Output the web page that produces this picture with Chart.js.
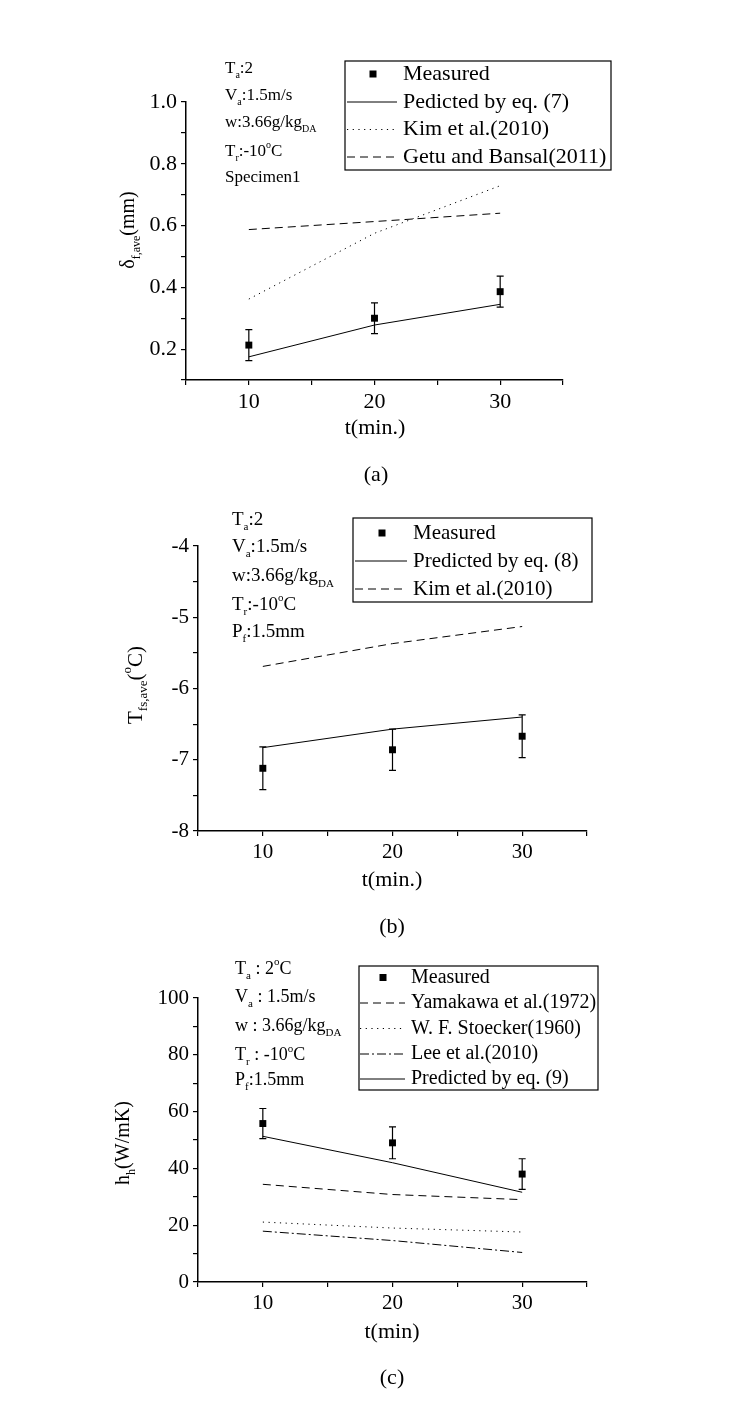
<!DOCTYPE html>
<html>
<head>
<meta charset="utf-8">
<script src="https://cdn.jsdelivr.net/npm/chart.js@4.4.1/dist/chart.umd.min.js"></script>
<style>
  body { margin: 0; background: #fff; width: 753px; height: 1402px; position: relative; overflow: hidden; }
  canvas { position: absolute; left: 0; }
</style>
</head>
<body>
<canvas id="chartA" width="753" height="500" style="top:0"></canvas>
<canvas id="chartB" width="753" height="500" style="top:450px"></canvas>
<canvas id="chartC" width="753" height="502" style="top:900px"></canvas>
<script>
// time axis (min)
var timeMin = [10, 20, 30];
var xLabelled = [10, 20, 30];

// (a) average frost thickness, mm
var thkMeasured = [0.213, 0.300, 0.386];
var thkErr = [0.05, 0.05, 0.05];
var thkEq7 = [0.175, 0.278, 0.345];
var thkKim = [0.362, 0.575, 0.729];
var thkGetu = [0.587, 0.613, 0.640];

// (b) average frost surface temperature, C
var tempMeasured = [-7.12, -6.86, -6.67];
var tempErr = [0.30, 0.29, 0.30];
var tempEq8 = [-6.83, -6.57, -6.40];
var tempKim = [-5.69, -5.37, -5.13];

// (c) heat transfer coefficient, W/m2K
var hMeasured = [55.8, 49.0, 38.0];
var hErr = [5.3, 5.6, 5.4];
var hYamakawa = [34.4, 30.8, 29.0];
var hStoecker = [21.1, 19.0, 17.6];
var hLee = [17.9, 14.6, 10.4];
var hEq9 = [51.3, 42.0, 31.6];

var serif = 'Liberation Serif';
Chart.defaults.font.family = serif;
Chart.defaults.color = '#000';

function pts(ys) {
  return timeMin.map(function (t, i) { return { x: t, y: ys[i] }; });
}

function measuredSet(label, ys) {
  return { label: label, data: pts(ys), showLine: false, pointStyle: 'rect',
    pointRadius: 4.9, backgroundColor: '#000', borderColor: '#000', borderWidth: 0 };
}

function lineSet(label, ys, dash) {
  return { label: label, data: pts(ys), showLine: true, pointRadius: 0,
    borderColor: '#000', borderWidth: 1, borderDash: dash || [], fill: false, tension: 0 };
}

// rich text: parts are [text, mode] with mode '', 'sub' or 'sup'
function partFont(size, mode) {
  return (mode ? Math.round(size * 0.6) : size) + 'px "' + serif + '"';
}
function richWidth(ctx, parts, size) {
  var w = 0;
  parts.forEach(function (p) { ctx.font = partFont(size, p[1]); w += ctx.measureText(p[0]).width; });
  return w;
}
function drawRich(ctx, parts, x, y, size) {
  ctx.textBaseline = 'middle';
  ctx.textAlign = 'left';
  parts.forEach(function (p) {
    ctx.font = partFont(size, p[1]);
    var dy = p[1] === 'sub' ? size * 0.38 : (p[1] === 'sup' ? -size * 0.38 : 0);
    ctx.fillText(p[0], x, y + dy);
    x += ctx.measureText(p[0]).width;
  });
}

var decoConfigs = {};

var decoPlugin = {
  id: 'deco',
  afterDatasetsDraw: function (chart) {
    var cfg = decoConfigs[chart.canvas.id];
    if (!cfg) return;
    var ctx = chart.ctx, xs = chart.scales.x, ys = chart.scales.y;
    ctx.save();
    ctx.strokeStyle = '#000';
    ctx.lineWidth = 1.2;
    cfg.err.mid.forEach(function (v, i) {
      var px = xs.getPixelForValue(timeMin[i]);
      var top = ys.getPixelForValue(v + cfg.err.size[i]);
      var bot = ys.getPixelForValue(v - cfg.err.size[i]);
      ctx.beginPath();
      ctx.moveTo(px, top); ctx.lineTo(px, bot);
      ctx.moveTo(px - 3.5, top); ctx.lineTo(px + 3.5, top);
      ctx.moveTo(px - 3.5, bot); ctx.lineTo(px + 3.5, bot);
      ctx.stroke();
    });
    ctx.restore();
  },
  afterDraw: function (chart) {
    var cfg = decoConfigs[chart.canvas.id];
    if (!cfg) return;
    var ctx = chart.ctx;
    ctx.save();
    ctx.fillStyle = '#000';
    ctx.strokeStyle = '#000';

    // condition notes
    cfg.notes.lines.forEach(function (parts, i) {
      drawRich(ctx, parts, cfg.notes.x, cfg.notes.rows[i], cfg.notes.size);
    });

    // legend box
    var lg = cfg.legend;
    ctx.lineWidth = 1.2;
    ctx.strokeRect(lg.box[0], lg.box[1], lg.box[2] - lg.box[0], lg.box[3] - lg.box[1]);
    lg.order.forEach(function (dsIndex, i) {
      var ds = chart.data.datasets[dsIndex];
      var y = lg.rows[i];
      if (ds.showLine === false) {
        ctx.fillRect(lg.markX - 3.5, y - 3.5, 7, 7);
      } else {
        ctx.lineWidth = 1;
        ctx.setLineDash(ds.borderDash);
        ctx.beginPath();
        ctx.moveTo(lg.lineX[0], y); ctx.lineTo(lg.lineX[1], y);
        ctx.stroke();
        ctx.setLineDash([]);
      }
      ctx.font = lg.size + 'px "' + serif + '"';
      ctx.textBaseline = 'middle';
      ctx.textAlign = 'left';
      ctx.fillText(ds.label, lg.textX, y);
    });

    // axis titles and panel label
    ctx.font = cfg.xTitle.size + 'px "' + serif + '"';
    ctx.textAlign = 'center';
    ctx.textBaseline = 'middle';
    ctx.fillText(cfg.xTitle.text, cfg.xTitle.x, cfg.xTitle.y);
    ctx.fillText(cfg.panel.text, cfg.panel.x, cfg.panel.y);

    var yt = cfg.yTitle;
    var w = richWidth(ctx, yt.parts, yt.size);
    ctx.translate(yt.x, yt.y);
    ctx.rotate(-Math.PI / 2);
    drawRich(ctx, yt.parts, -w / 2, 0, yt.size);
    ctx.restore();
  }
};

function makePanel(id, datasets, yOpts, box, tickSize) {
  var canvas = document.getElementById(id);
  var H = canvas.height;
  var axisStyle = {
    grid: { display: true, drawOnChartArea: false, drawTicks: true, tickLength: 5, color: '#000', lineWidth: 1.2 },
    border: { display: true, color: '#000', width: 1.5 }
  };
  return new Chart(canvas.getContext('2d'), {
    type: 'scatter',
    data: { datasets: datasets },
    plugins: [decoPlugin],
    options: {
      responsive: false,
      animation: false,
      layout: { padding: { left: 0, top: box.top, right: 753 - box.right, bottom: H - box.bottom - 50 } },
      plugins: { legend: { display: false }, tooltip: { enabled: false } },
      scales: {
        x: Object.assign({
          type: 'linear', min: 5, max: 35,
          afterFit: function (s) { s.height = 50; },
          ticks: {
            stepSize: 5, autoSkip: false, maxRotation: 0, padding: 4,
            font: { size: tickSize },
            callback: function (v) { return xLabelled.indexOf(v) >= 0 ? String(v) : ''; }
          }
        }, axisStyle),
        y: Object.assign({
          type: 'linear', min: yOpts.min, max: yOpts.max,
          afterFit: function (s) { s.width = box.left; },
          ticks: {
            stepSize: yOpts.step, autoSkip: false, padding: 4,
            font: { size: tickSize },
            callback: yOpts.label
          }
        }, axisStyle)
      }
    }
  });
}

// ---------- (a)
decoConfigs.chartA = {
  err: { mid: thkMeasured, size: thkErr },
  notes: { x: 225, size: 17, rows: [69, 96, 123, 152, 178], lines: [
    [['T', ''], ['a', 'sub'], [':2', '']],
    [['V', ''], ['a', 'sub'], [':1.5m/s', '']],
    [['w:3.66g/kg', ''], ['DA', 'sub']],
    [['T', ''], ['r', 'sub'], [':-10', ''], ['o', 'sup'], ['C', '']],
    [['Specimen1', '']]
  ] },
  legend: { box: [345, 61, 611, 170], rows: [74, 102, 129.5, 157], order: [0, 1, 2, 3],
    markX: 373, lineX: [347, 397], textX: 403, size: 22 },
  xTitle: { text: 't(min.)', x: 375, y: 428, size: 22 },
  panel: { text: '(a)', x: 376, y: 475 },
  yTitle: { parts: [['\u03b4', ''], ['f,ave', 'sub'], ['(mm)', '']], x: 129, y: 230, size: 20 }
};
makePanel('chartA', [
  measuredSet('Measured', thkMeasured),
  lineSet('Pedicted by eq. (7)', thkEq7),
  lineSet('Kim et al.(2010)', thkKim, [1.2, 4.5]),
  lineSet('Getu and Bansal(2011)', thkGetu, [8, 5])
], {
  min: 0.1, max: 1.0, step: 0.1,
  label: function (v) { var r = Math.round(v * 10); return (r % 2 === 0) ? (r / 10).toFixed(1) : ''; }
}, { left: 186, right: 563, top: 102, bottom: 380 }, 22);

// ---------- (b)
decoConfigs.chartB = {
  err: { mid: tempMeasured, size: tempErr },
  notes: { x: 232, size: 19, rows: [70, 97, 126.5, 155, 182], lines: [
    [['T', ''], ['a', 'sub'], [':2', '']],
    [['V', ''], ['a', 'sub'], [':1.5m/s', '']],
    [['w:3.66g/kg', ''], ['DA', 'sub']],
    [['T', ''], ['r', 'sub'], [':-10', ''], ['o', 'sup'], ['C', '']],
    [['P', ''], ['f', 'sub'], [':1.5mm', '']]
  ] },
  legend: { box: [353, 68, 592, 152], rows: [83, 111, 139], order: [0, 1, 2],
    markX: 382, lineX: [355, 407], textX: 413, size: 21 },
  xTitle: { text: 't(min.)', x: 392, y: 430, size: 22 },
  panel: { text: '(b)', x: 392, y: 477 },
  yTitle: { parts: [['T', ''], ['fs,ave', 'sub'], ['(', ''], ['o', 'sup'], ['C)', '']], x: 136, y: 235, size: 21 }
};
makePanel('chartB', [
  measuredSet('Measured', tempMeasured),
  lineSet('Predicted by eq. (8)', tempEq8),
  lineSet('Kim et al.(2010)', tempKim, [8, 5])
], {
  min: -8, max: -4, step: 0.5,
  label: function (v) { return Number.isInteger(v) ? String(v) : ''; }
}, { left: 198, right: 587, top: 96, bottom: 381 }, 21);

// ---------- (c)
decoConfigs.chartC = {
  err: { mid: hMeasured, size: hErr },
  notes: { x: 235, size: 18, rows: [69, 97.5, 126.5, 155.5, 180.5], lines: [
    [['T', ''], ['a', 'sub'], [' : 2', ''], ['o', 'sup'], ['C', '']],
    [['V', ''], ['a', 'sub'], [' : 1.5m/s', '']],
    [['w : 3.66g/kg', ''], ['DA', 'sub']],
    [['T', ''], ['r', 'sub'], [' : -10', ''], ['o', 'sup'], ['C', '']],
    [['P', ''], ['f', 'sub'], [':1.5mm', '']]
  ] },
  legend: { box: [359, 66, 598, 190], rows: [77.5, 103, 128.5, 154, 179], order: [0, 1, 2, 3, 4],
    markX: 383, lineX: [360, 405], textX: 411, size: 20 },
  xTitle: { text: 't(min)', x: 392, y: 432, size: 22 },
  panel: { text: '(c)', x: 392, y: 478 },
  yTitle: { parts: [['h', ''], ['h', 'sub'], ['(W/mK)', '']], x: 124, y: 243, size: 20 }
};
makePanel('chartC', [
  measuredSet('Measured', hMeasured),
  lineSet('Yamakawa et al.(1972)', hYamakawa, [8, 5]),
  lineSet('W. F. Stoecker(1960)', hStoecker, [1.2, 4.5]),
  lineSet('Lee et al.(2010)', hLee, [9, 3, 2, 3]),
  lineSet('Predicted by eq. (9)', hEq9)
], {
  min: 0, max: 100, step: 10,
  label: function (v) { return (v % 20 === 0) ? String(v) : ''; }
}, { left: 198, right: 587, top: 98, bottom: 382 }, 21);
</script>
</body>
</html>
